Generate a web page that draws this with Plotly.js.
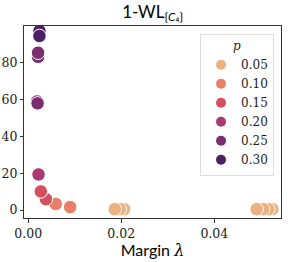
<!DOCTYPE html>
<html><head><meta charset="utf-8">
<script src="https://cdn.plot.ly/plotly-3.0.1.min.js"></script>
<style>html,body{margin:0;padding:0;background:#fff}#c{width:288px;height:262px}</style>
</head><body><div id="c"></div>
<script>
// data per p value (margin lambda, y value)
const pLabels = ["0.05","0.10","0.15","0.20","0.25","0.30"];
const pColors = ["#edb081","#e77e65","#d5505f","#aa3a6d","#7a2e6f","#4b2162"];
const x005 = [0.0525, 0.0516, 0.0505, 0.0491, 0.0206, 0.0197, 0.0186];
const y005 = [0.5, 0.5, 0.5, 0.5, 0.5, 0.5, 0.5];
const x010 = [0.0090, 0.0059];
const y010 = [1.6, 3.3];
const x015 = [0.0038, 0.0027];
const y015 = [5.9, 10.1];
const x020 = [0.0022];
const y020 = [19.3];
const x025 = [0.0019, 0.0020, 0.0021, 0.0021];
const y025 = [58.8, 57.8, 83.0, 85.2];
const x030 = [0.0024, 0.0024];
const y030 = [97.0, 94.3];

const xs = [x005, x010, x015, x020, x025, x030];
const ys = [y005, y010, y015, y020, y025, y030];

const traces = [];
for (let i = 0; i < pLabels.length; i++) {
  traces.push({
    type: 'scatter', mode: 'markers', x: xs[i], y: ys[i],
    name: pLabels[i], showlegend: false, hoverinfo: 'skip',
    marker: {size: 13.5, color: pColors[i], line: {color: '#ffffff', width: 1}}
  });
}
for (let i = 0; i < pLabels.length; i++) {
  traces.push({
    type: 'scatter', mode: 'markers', x: [null], y: [null],
    name: pLabels[i], showlegend: true,
    marker: {size: 10, color: pColors[i], line: {width: 0}}
  });
}

const serif = "'DejaVu Serif', serif";
const sans = "Lato, 'Noto Sans', sans-serif";
const layout = {
  width: 288, height: 262,
  margin: {l: 24, r: 7, t: 26, b: 44, pad: 0},
  paper_bgcolor: '#fff', plot_bgcolor: '#fff',
  title: {text: '1-WL<sub>{<i>C</i>₄}</sub>', font: {family: sans, size: 17, color: '#000'},
          x: 0.53, xanchor: 'center', y: 0.955, yanchor: 'middle'},
  xaxis: {
    range: [-0.00092, 0.05434], tickvals: [0, 0.02, 0.04], ticktext: ['0.00','0.02','0.04'],
    showgrid: false, zeroline: false, showline: true, mirror: true, linecolor: '#333', linewidth: 1,
    ticks: 'outside', ticklen: 3.5, tickcolor: '#333', tickwidth: 1,
    tickfont: {family: serif, size: 12.5, color: '#222'},
    title: {text: "Margin <span style=\"font-family:'DejaVu Serif',serif\"><i>λ</i></span>", font: {family: sans, size: 16, color: '#000'}, standoff: 1}
  },
  yaxis: {
    range: [-4.3, 99.7], tickvals: [0, 20, 40, 60, 80],
    showgrid: false, zeroline: false, showline: true, mirror: true, linecolor: '#333', linewidth: 1,
    ticks: 'outside', ticklen: 3, tickcolor: '#333', tickwidth: 1,
    tickfont: {family: serif, size: 12.5, color: '#222'}
  },
  legend: {
    x: 0.685, xanchor: 'left', y: 0.96, yanchor: 'top',
    bgcolor: 'rgba(255,255,255,0.8)', bordercolor: '#dddddd', borderwidth: 1,
    font: {family: serif, size: 12, color: '#222'},
    title: {text: '<i>p</i>', side: 'top center', font: {family: serif, size: 12, color: '#222'}},
    itemsizing: 'trace'
  },
  showlegend: true
};
Plotly.newPlot('c', traces, layout, {displayModeBar: false, staticPlot: true});
</script></body></html>
